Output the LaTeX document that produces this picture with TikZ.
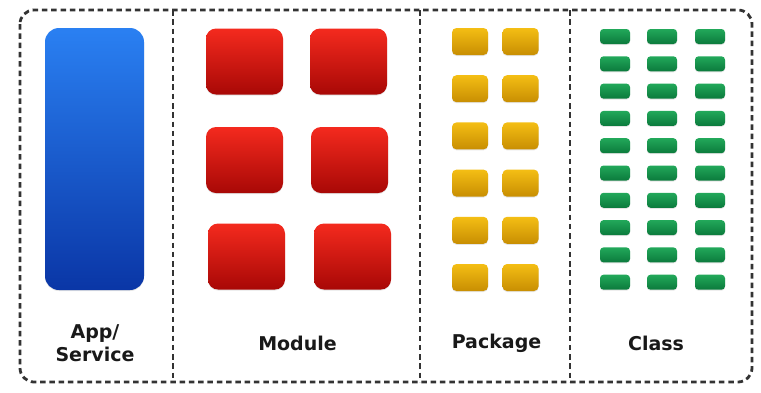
\documentclass[tikz,border=0pt]{standalone}
\usepackage{fontspec}
\setmainfont{DejaVu Sans}
\usetikzlibrary{shadows}
\definecolor{apptop}{HTML}{2A80F2}
\definecolor{appbot}{HTML}{0A36A6}
\definecolor{modtop}{HTML}{F42A1E}
\definecolor{modbot}{HTML}{A80806}
\definecolor{pkgtop}{HTML}{F4BE14}
\definecolor{pkgbot}{HTML}{C88E02}
\definecolor{clstop}{HTML}{22A85A}
\definecolor{clsbot}{HTML}{0B7A3C}
\definecolor{frameink}{HTML}{333333}
\begin{document}
\begin{tikzpicture}[x=1pt,y=-1pt,
  frameline/.style={draw=frameink, line width=2.8pt, dash pattern=on 5.5pt off 3.8pt},
  tile/.style={inner sep=0pt, outer sep=0pt, rounded corners=#1,
    drop shadow={opacity=0.2, shadow xshift=0pt, shadow yshift=-1pt}},
  apptile/.style={tile=14pt, minimum width=99pt, minimum height=262pt,
    top color=apptop, bottom color=appbot},
  modtile/.style={tile=10pt, minimum width=77pt, minimum height=66pt,
    top color=modtop, bottom color=modbot},
  pkgtile/.style={tile=4.5pt, minimum width=36pt, minimum height=27pt,
    top color=pkgtop, bottom color=pkgbot},
  clstile/.style={tile=3.5pt, minimum width=30pt, minimum height=15pt,
    top color=clstop, bottom color=clsbot},
  caption/.style={font=\bfseries\fontsize{19}{23}\selectfont, text=black!90, align=center, inner sep=0pt}
]
\useasboundingbox (0,0) rectangle (761,392);
\fill[white] (0,0) rectangle (761,392);

% outer dashed frame and column dividers
\draw[frameline, rounded corners=14pt] (20,10) rectangle (752,382);
\foreach \x/\n in {173/a,420/b,570/c} {
  \coordinate (div\n top) at (\x,10);
  \coordinate (div\n bot) at (\x,382);
  \draw[frameline] (div\n top) -- (div\n bot);
}

% application / service
\node[apptile] (app) at (94.5,159) {};

% modules
\node[modtile] (m11) at (244.5,61.5) {};
\node[modtile] (m12) at (348.5,61.5) {};
\node[modtile] (m21) at (244.5,160) {};
\node[modtile] (m22) at (349.5,160) {};
\node[modtile] (m31) at (246.5,256.5) {};
\node[modtile] (m32) at (352.5,256.5) {};

% packages
\foreach \r in {0,...,5}
  \foreach \c/\x in {1/470,2/520.5}
    \node[pkgtile] (p\r\c) at (\x,{41.5+47.2*\r}) {};

% classes
\foreach \r in {0,...,9}
  \foreach \c/\x in {1/615,2/662,3/710}
    \node[clstile] (k\r\c) at (\x,{36.5+27.3*\r}) {};

% captions
\node[caption] (lapp) at (95,343) {App/\\Service};
\node[caption] (lmod) at (297.5,343) {Module};
\node[caption] (lpkg) at (496.5,343) {Package};
\node[caption] (lcls) at (656,343) {Class};
\end{tikzpicture}
\end{document}
